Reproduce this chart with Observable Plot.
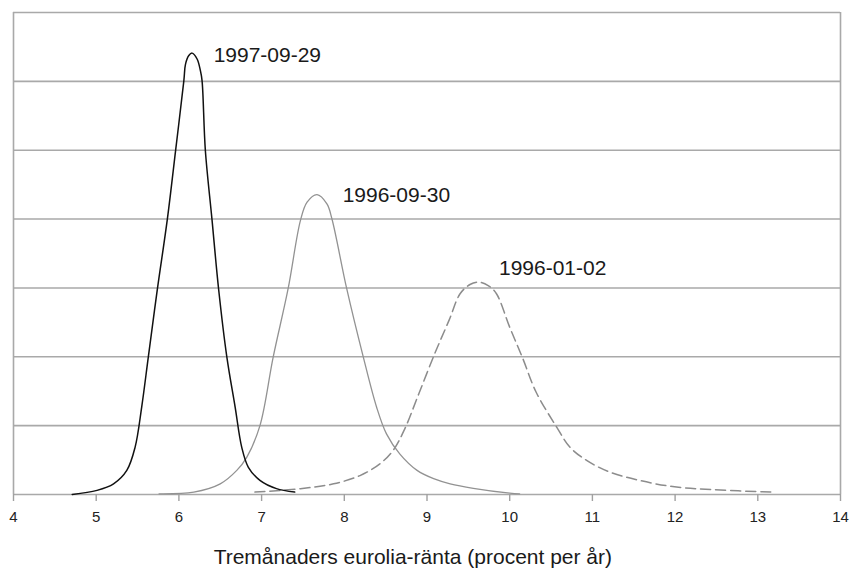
<!DOCTYPE html>
<html>
<head>
<meta charset="utf-8">
<script src="https://cdn.jsdelivr.net/npm/d3@7"></script>
<script src="https://cdn.jsdelivr.net/npm/@observablehq/plot@0.6"></script>
<style>
  html, body { margin: 0; padding: 0; background: #fff; }
  #chart { width: 851px; height: 574px; }
</style>
</head>
<body>
<div id="chart"></div>
<script>
// Täthet (density) vs rate, three dates
const rate1997 = [4.71, 5.01, 5.21, 5.37, 5.47, 5.55, 5.63, 5.74, 5.86, 5.96, 6.06, 6.08, 6.12, 6.16, 6.22, 6.26, 6.28, 6.32, 6.40, 6.48, 6.58, 6.68, 6.76, 6.84, 6.98, 7.18, 7.40];
const dens1997 = [0.000, 0.012, 0.031, 0.070, 0.137, 0.254, 0.399, 0.597, 0.799, 0.999, 1.202, 1.250, 1.275, 1.282, 1.265, 1.231, 1.202, 0.999, 0.799, 0.597, 0.399, 0.254, 0.137, 0.079, 0.041, 0.017, 0.007];

const rate1996b = [5.76, 6.18, 6.50, 6.70, 6.82, 6.98, 7.14, 7.32, 7.47, 7.55, 7.67, 7.79, 7.85, 8.03, 8.23, 8.39, 8.51, 8.67, 8.88, 9.08, 9.28, 9.56, 10.00, 10.12];
const dens1996b = [0.002, 0.007, 0.031, 0.070, 0.108, 0.200, 0.399, 0.597, 0.796, 0.849, 0.871, 0.844, 0.801, 0.597, 0.399, 0.254, 0.176, 0.118, 0.070, 0.046, 0.031, 0.018, 0.004, 0.002];

const rate1996a = [6.92, 7.47, 7.87, 8.19, 8.43, 8.59, 8.73, 8.90, 9.10, 9.27, 9.40, 9.52, 9.62, 9.74, 9.84, 10.00, 10.16, 10.32, 10.57, 10.73, 10.93, 11.21, 11.57, 11.97, 12.46, 13.16];
const dens1996a = [0.007, 0.017, 0.031, 0.055, 0.089, 0.128, 0.190, 0.292, 0.413, 0.508, 0.583, 0.610, 0.617, 0.607, 0.583, 0.486, 0.394, 0.297, 0.195, 0.137, 0.099, 0.065, 0.041, 0.023, 0.014, 0.007];

const seriesLabels = ["1997-09-29", "1996-09-30", "1996-01-02"];
const labelX = [6.42, 7.98, 9.87];
const labelY = [1.275, 0.870, 0.658];

const xTicks = [4, 5, 6, 7, 8, 9, 10, 11, 12, 13, 14];
const gridValues = [0.2, 0.4, 0.6, 0.8, 1.0, 1.2, 1.4];
const xTitle = "Tremånaders eurolia-ränta (procent per år)";

const toRows = (xs, ys) => xs.map((x, i) => ({x, y: ys[i]}));
const s1 = toRows(rate1997, dens1997);
const s2 = toRows(rate1996b, dens1996b);
const s3 = toRows(rate1996a, dens1996a);
const labels = seriesLabels.map((t, i) => ({t, x: labelX[i], y: labelY[i]}));

const chart = Plot.plot({
  width: 851,
  height: 574,
  marginLeft: 13,
  marginRight: 11,
  marginTop: 12,
  marginBottom: 80,
  style: {fontFamily: "'Liberation Sans', Arial, Helvetica, sans-serif", background: "#fff"},
  x: {domain: [4, 14], ticks: xTicks, label: null},
  y: {domain: [0, 1.4], axis: null},
  marks: [
    Plot.ruleY(gridValues, {stroke: "#a9a9a9", strokeWidth: 1.6}),
    Plot.ruleX([4, 14], {stroke: "#a9a9a9", strokeWidth: 1.6}),
    Plot.ruleY([0], {stroke: "#a9a9a9", strokeWidth: 1.6}),
    Plot.axisX({ticks: xTicks, tickSize: 7, tickPadding: 10, fontSize: 15, stroke: "#a0a0a0", strokeWidth: 1.4, color: "#222", tickFormat: d => String(d)}),
    Plot.line(s3, {x: "x", y: "y", stroke: "#8c8c8c", strokeWidth: 1.5, strokeDasharray: "10,5", curve: "catmull-rom"}),
    Plot.line(s2, {x: "x", y: "y", stroke: "#929292", strokeWidth: 1.3, curve: "catmull-rom"}),
    Plot.line(s1, {x: "x", y: "y", stroke: "#111", strokeWidth: 1.5, curve: "catmull-rom"}),
    Plot.text(labels, {x: "x", y: "y", text: "t", textAnchor: "start", fontSize: 21, fill: "#1a1a1a"}),
    Plot.text([xTitle], {x: 6.42, y: 0, text: d => d, textAnchor: "start", dy: 63, fontSize: 21, fill: "#1a1a1a"})
  ]
});
document.getElementById("chart").appendChild(chart);
</script>
</body>
</html>
